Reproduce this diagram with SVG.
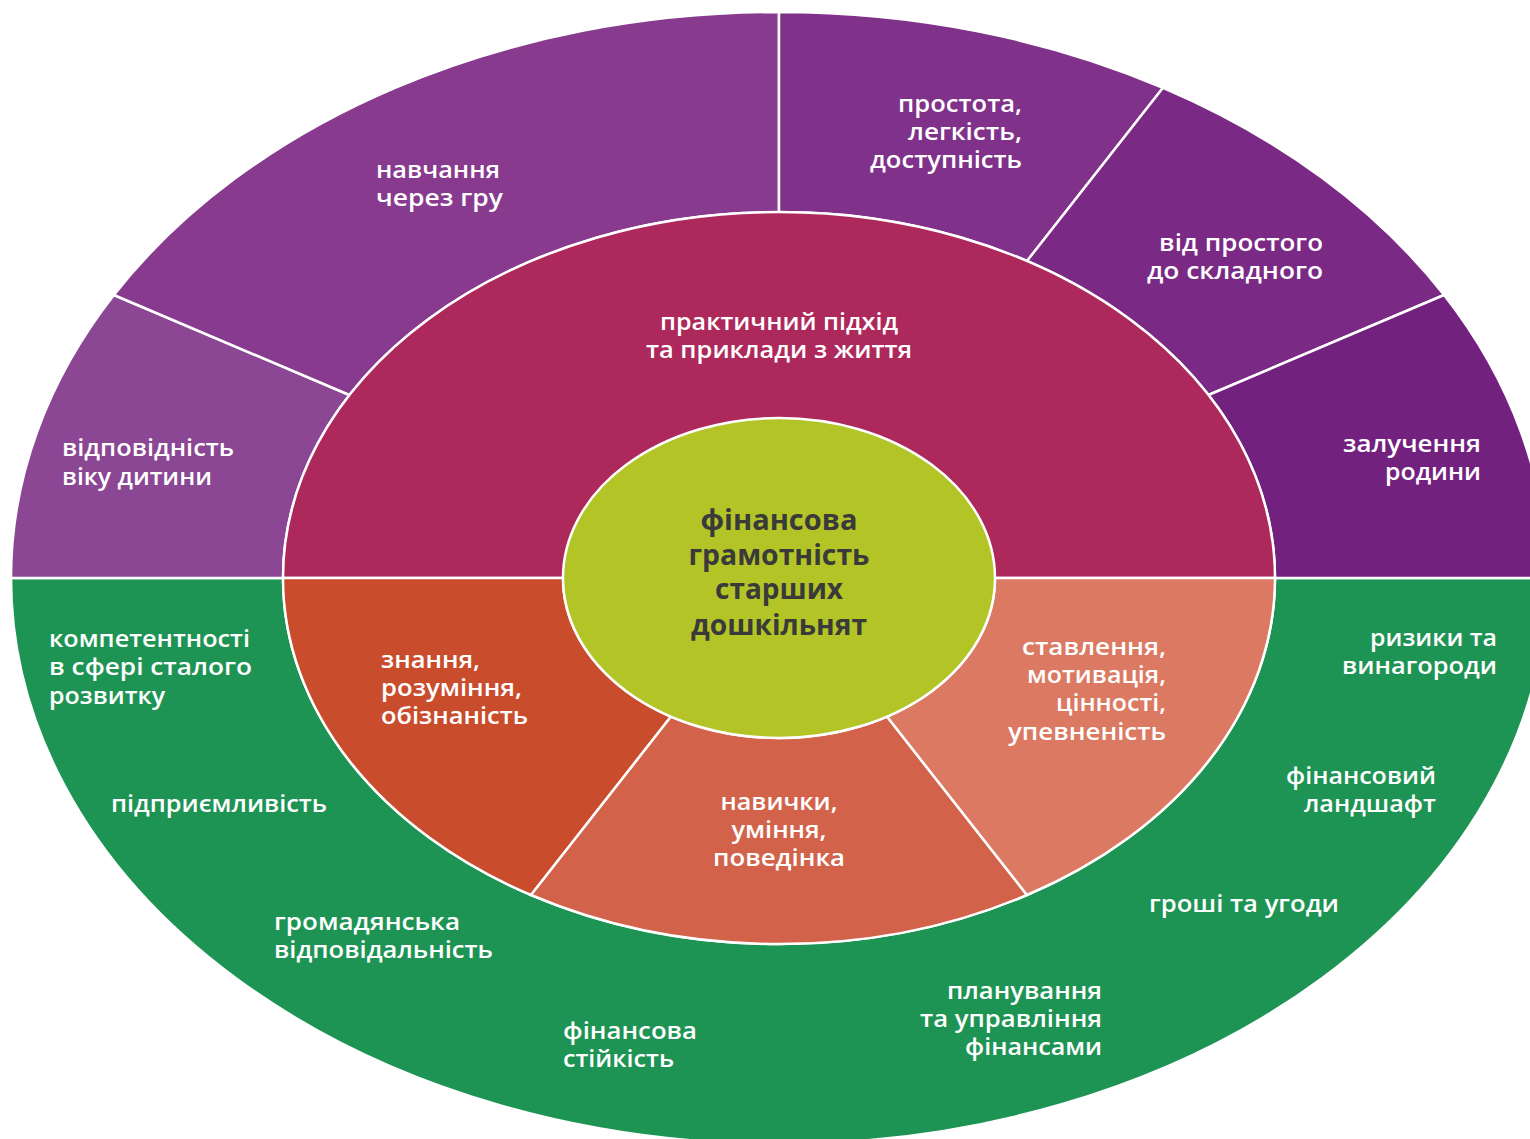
<svg xmlns="http://www.w3.org/2000/svg" width="1530" height="1139" viewBox="0 0 1530 1139">
<style>
.seg{stroke:#fff;stroke-width:2.5;stroke-linejoin:round}
.t{font-family:"Open Sans","Noto Sans","DejaVu Sans",sans-serif;font-weight:600;font-size:24px;fill:#fff}
.c{font-family:"Open Sans","Noto Sans","DejaVu Sans",sans-serif;font-weight:700;font-size:29px;fill:#3a3a3a}
.m{text-anchor:middle}
.e{text-anchor:end}
</style>
<rect width="1530" height="1139" fill="#fff"/>
<g id="outer-green">
<path class="seg" fill="#1e9454" d="M 11 578 A 768 566 0 0 0 1547 578 L 1275 578 A 496 366 0 0 1 283 578 Z"/>
<text class="t" x="49" y="647" textLength="201" lengthAdjust="spacingAndGlyphs">компетентності</text>
<text class="t" x="49" y="675" textLength="203" lengthAdjust="spacingAndGlyphs">в сфері сталого</text>
<text class="t" x="49" y="704" textLength="116" lengthAdjust="spacingAndGlyphs">розвитку</text>
<text class="t" x="111" y="812" textLength="216" lengthAdjust="spacingAndGlyphs">підприємливість</text>
<text class="t" x="274" y="930" textLength="186" lengthAdjust="spacingAndGlyphs">громадянська</text>
<text class="t" x="274" y="958" textLength="219" lengthAdjust="spacingAndGlyphs">відповідальність</text>
<text class="t" x="563" y="1039" textLength="134" lengthAdjust="spacingAndGlyphs">фінансова</text>
<text class="t" x="563" y="1067" textLength="111" lengthAdjust="spacingAndGlyphs">стійкість</text>
<text class="t e" x="1102" y="999" textLength="155" lengthAdjust="spacingAndGlyphs">планування</text>
<text class="t e" x="1102" y="1027" textLength="182" lengthAdjust="spacingAndGlyphs">та управління</text>
<text class="t e" x="1102" y="1055" textLength="137" lengthAdjust="spacingAndGlyphs">фінансами</text>
<text class="t" x="1149" y="912" textLength="190" lengthAdjust="spacingAndGlyphs">гроші та угоди</text>
<text class="t e" x="1436" y="784" textLength="150" lengthAdjust="spacingAndGlyphs">фінансовий</text>
<text class="t e" x="1436" y="812" textLength="132" lengthAdjust="spacingAndGlyphs">ландшафт</text>
<text class="t e" x="1497" y="646" textLength="127" lengthAdjust="spacingAndGlyphs">ризики та</text>
<text class="t e" x="1497" y="674" textLength="155" lengthAdjust="spacingAndGlyphs">винагороди</text>
</g>
<g id="age">
<path class="seg" fill="#8b4694" d="M 11 578 A 768 566 0 0 1 113.9 295 L 349.5 395 A 496 366 0 0 0 283 578 Z"/>
<text class="t" x="62" y="456" textLength="172" lengthAdjust="spacingAndGlyphs">відповідність</text>
<text class="t" x="62" y="485" textLength="150" lengthAdjust="spacingAndGlyphs">віку дитини</text>
</g>
<g id="play">
<path class="seg" fill="#873a8e" d="M 113.9 295 A 768 566 0 0 1 779 12 L 779 212 A 496 366 0 0 0 349.5 395 Z"/>
<text class="t" x="376" y="178" textLength="124" lengthAdjust="spacingAndGlyphs">навчання</text>
<text class="t" x="376" y="206" textLength="127" lengthAdjust="spacingAndGlyphs">через гру</text>
</g>
<g id="simplicity">
<path class="seg" fill="#80318a" d="M 779 12 A 768 566 0 0 1 1163 87.8 L 1027 261 A 496 366 0 0 0 779 212 Z"/>
<text class="t e" x="1022" y="112" textLength="124" lengthAdjust="spacingAndGlyphs">простота,</text>
<text class="t e" x="1022" y="140" textLength="114" lengthAdjust="spacingAndGlyphs">легкість,</text>
<text class="t e" x="1022" y="168" textLength="152" lengthAdjust="spacingAndGlyphs">доступність</text>
</g>
<g id="simple-to-complex">
<path class="seg" fill="#7a2984" d="M 1163 87.8 A 768 566 0 0 1 1444.1 295 L 1208.5 395 A 496 366 0 0 0 1027 261 Z"/>
<text class="t e" x="1323" y="251" textLength="164" lengthAdjust="spacingAndGlyphs">від простого</text>
<text class="t e" x="1323" y="279" textLength="176" lengthAdjust="spacingAndGlyphs">до складного</text>
</g>
<g id="family">
<path class="seg" fill="#73217f" d="M 1444.1 295 A 768 566 0 0 1 1547 578 L 1275 578 A 496 366 0 0 0 1208.5 395 Z"/>
<text class="t e" x="1481" y="452" textLength="138" lengthAdjust="spacingAndGlyphs">залучення</text>
<text class="t e" x="1481" y="480" textLength="96" lengthAdjust="spacingAndGlyphs">родини</text>
</g>
<g id="practical">
<path class="seg" fill="#ae295b" d="M 283 578 A 496 366 0 0 1 1275 578 Z"/>
<text class="t m" x="779" y="330" textLength="238" lengthAdjust="spacingAndGlyphs">практичний підхід</text>
<text class="t m" x="779" y="358" textLength="266" lengthAdjust="spacingAndGlyphs">та приклади з життя</text>
</g>
<g id="knowledge">
<path class="seg" fill="#c94c2d" d="M 283 578 A 496 366 0 0 0 531 895 L 671 716.6 A 216 160 0 0 1 563 578 Z"/>
<text class="t" x="381" y="668" textLength="99" lengthAdjust="spacingAndGlyphs">знання,</text>
<text class="t" x="381" y="696" textLength="141" lengthAdjust="spacingAndGlyphs">розуміння,</text>
<text class="t" x="381" y="724" textLength="147" lengthAdjust="spacingAndGlyphs">обізнаність</text>
</g>
<g id="skills">
<path class="seg" fill="#d2634a" d="M 531 895 A 496 366 0 0 0 1027 895 L 887 716.6 A 216 160 0 0 1 671 716.6 Z"/>
<text class="t m" x="779" y="810" textLength="117" lengthAdjust="spacingAndGlyphs">навички,</text>
<text class="t m" x="779" y="838" textLength="95" lengthAdjust="spacingAndGlyphs">уміння,</text>
<text class="t m" x="779" y="866" textLength="132" lengthAdjust="spacingAndGlyphs">поведінка</text>
</g>
<g id="attitudes">
<path class="seg" fill="#dc7962" d="M 1027 895 A 496 366 0 0 0 1275 578 L 995 578 A 216 160 0 0 1 887 716.6 Z"/>
<text class="t e" x="1166" y="655" textLength="144" lengthAdjust="spacingAndGlyphs">ставлення,</text>
<text class="t e" x="1166" y="683" textLength="139" lengthAdjust="spacingAndGlyphs">мотивація,</text>
<text class="t e" x="1166" y="711" textLength="110" lengthAdjust="spacingAndGlyphs">цінності,</text>
<text class="t e" x="1166" y="740" textLength="158" lengthAdjust="spacingAndGlyphs">упевненість</text>
</g>
<g id="center">
<ellipse class="seg" fill="#b3c526" cx="779" cy="578" rx="216" ry="160"/>
<text class="c m" x="779" y="530" textLength="157" lengthAdjust="spacingAndGlyphs">фінансова</text>
<text class="c m" x="779" y="565" textLength="181" lengthAdjust="spacingAndGlyphs">грамотність</text>
<text class="c m" x="779" y="599" textLength="128" lengthAdjust="spacingAndGlyphs">старших</text>
<text class="c m" x="779" y="635" textLength="176" lengthAdjust="spacingAndGlyphs">дошкільнят</text>
</g>
<g id="connectors"></g>
</svg>
